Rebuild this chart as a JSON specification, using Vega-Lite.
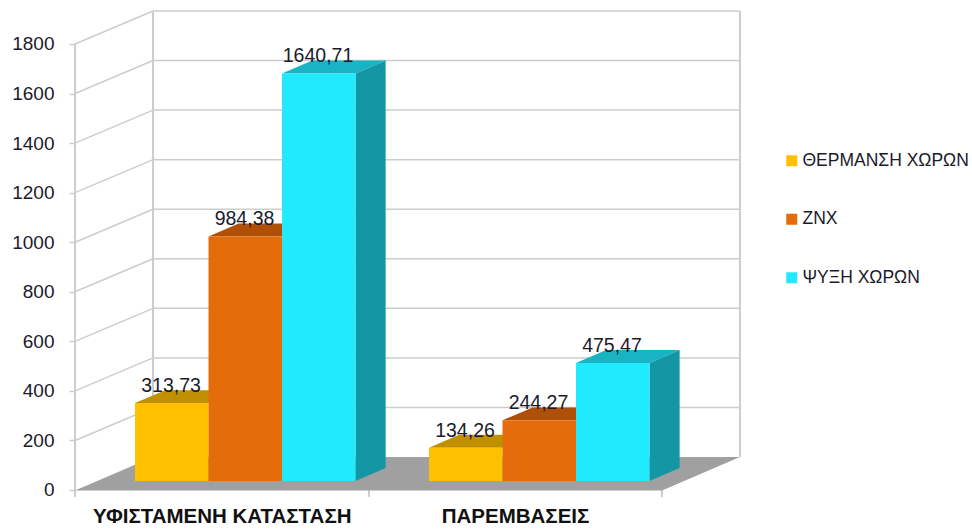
{"$schema":"https://vega.github.io/schema/vega-lite/v6.json","width":972,"height":497,"autosize":{"type":"none"},"padding":{"left":0,"top":0,"right":0,"bottom":32},"background":"white","config":{"view":{"stroke":null},"font":"Liberation Sans"},
"datasets":{
"bars":[
{"group":"ΥΦΙΣΤΑΜΕΝΗ ΚΑΤΑΣΤΑΣΗ","series":"ΘΕΡΜΑΝΣΗ ΧΩΡΩΝ","value":313.73,"label":"313,73","x0":0,"x1":1},
{"group":"ΥΦΙΣΤΑΜΕΝΗ ΚΑΤΑΣΤΑΣΗ","series":"ΖΝΧ","value":984.38,"label":"984,38","x0":1,"x1":2},
{"group":"ΥΦΙΣΤΑΜΕΝΗ ΚΑΤΑΣΤΑΣΗ","series":"ΨΥΞΗ ΧΩΡΩΝ","value":1640.71,"label":"1640,71","x0":2,"x1":3},
{"group":"ΠΑΡΕΜΒΑΣΕΙΣ","series":"ΘΕΡΜΑΝΣΗ ΧΩΡΩΝ","value":134.26,"label":"134,26","x0":4,"x1":5},
{"group":"ΠΑΡΕΜΒΑΣΕΙΣ","series":"ΖΝΧ","value":244.27,"label":"244,27","x0":5,"x1":6},
{"group":"ΠΑΡΕΜΒΑΣΕΙΣ","series":"ΨΥΞΗ ΧΩΡΩΝ","value":475.47,"label":"475,47","x0":6,"x1":7}],
"ticks":[{"v":200,"back":333},{"v":400,"back":533},{"v":600,"back":733},{"v":800,"back":933},{"v":1000,"back":1133},{"v":1200,"back":1333},{"v":1400,"back":1533},{"v":1600,"back":1733},{"v":1800,"back":1933}],
"floor":[{"x":-0.816,"y":-2,"y2":-2},{"x":0.245,"y":-2,"y2":133},{"x":7.17,"y":-2,"y2":133},{"x":8.231,"y":133,"y2":133}],
"tops":[
{"bar":"a1","series":"ΘΕΡΜΑΝΣΗ ΧΩΡΩΝ","x":0,"y":313.73,"y2":313.73},{"bar":"a1","series":"ΘΕΡΜΑΝΣΗ ΧΩΡΩΝ","x":0.41,"y":313.73,"y2":365.73},{"bar":"a1","series":"ΘΕΡΜΑΝΣΗ ΧΩΡΩΝ","x":1,"y":313.73,"y2":365.73},{"bar":"a1","series":"ΘΕΡΜΑΝΣΗ ΧΩΡΩΝ","x":1.41,"y":365.73,"y2":365.73},
{"bar":"a2","series":"ΖΝΧ","x":1,"y":984.38,"y2":984.38},{"bar":"a2","series":"ΖΝΧ","x":1.41,"y":984.38,"y2":1036.38},{"bar":"a2","series":"ΖΝΧ","x":2,"y":984.38,"y2":1036.38},{"bar":"a2","series":"ΖΝΧ","x":2.41,"y":1036.38,"y2":1036.38},
{"bar":"a3","series":"ΨΥΞΗ ΧΩΡΩΝ","x":2,"y":1640.71,"y2":1640.71},{"bar":"a3","series":"ΨΥΞΗ ΧΩΡΩΝ","x":2.41,"y":1640.71,"y2":1692.71},{"bar":"a3","series":"ΨΥΞΗ ΧΩΡΩΝ","x":3,"y":1640.71,"y2":1692.71},{"bar":"a3","series":"ΨΥΞΗ ΧΩΡΩΝ","x":3.41,"y":1692.71,"y2":1692.71},
{"bar":"b1","series":"ΘΕΡΜΑΝΣΗ ΧΩΡΩΝ","x":4,"y":134.26,"y2":134.26},{"bar":"b1","series":"ΘΕΡΜΑΝΣΗ ΧΩΡΩΝ","x":4.41,"y":134.26,"y2":186.26},{"bar":"b1","series":"ΘΕΡΜΑΝΣΗ ΧΩΡΩΝ","x":5,"y":134.26,"y2":186.26},{"bar":"b1","series":"ΘΕΡΜΑΝΣΗ ΧΩΡΩΝ","x":5.41,"y":186.26,"y2":186.26},
{"bar":"b2","series":"ΖΝΧ","x":5,"y":244.27,"y2":244.27},{"bar":"b2","series":"ΖΝΧ","x":5.41,"y":244.27,"y2":296.27},{"bar":"b2","series":"ΖΝΧ","x":6,"y":244.27,"y2":296.27},{"bar":"b2","series":"ΖΝΧ","x":6.41,"y":296.27,"y2":296.27},
{"bar":"b3","series":"ΨΥΞΗ ΧΩΡΩΝ","x":6,"y":475.47,"y2":475.47},{"bar":"b3","series":"ΨΥΞΗ ΧΩΡΩΝ","x":6.41,"y":475.47,"y2":527.47},{"bar":"b3","series":"ΨΥΞΗ ΧΩΡΩΝ","x":7,"y":475.47,"y2":527.47},{"bar":"b3","series":"ΨΥΞΗ ΧΩΡΩΝ","x":7.41,"y":527.47,"y2":527.47}],
"sides":[
{"bar":"a3","x":3,"y":0,"y2":1640.71},{"bar":"a3","x":3.41,"y":52,"y2":1692.71},
{"bar":"b3","x":7,"y":0,"y2":475.47},{"bar":"b3","x":7.41,"y":52,"y2":527.47}]
},
"layer":[
{"data":{"name":"ticks"},"mark":{"type":"rule","color":"#CDCDCD","strokeWidth":1.5},
"encoding":{"x":{"datum":-0.816,"type":"quantitative","scale":{"domain":[-1.837,11.388],"nice":false,"zero":false},"axis":{"title":null,"values":[1.18,5.17],"labelExpr":"datum.value<3?'ΥΦΙΣΤΑΜΕΝΗ ΚΑΤΑΣΤΑΣΗ':'ΠΑΡΕΜΒΑΣΕΙΣ'","ticks":false,"domain":false,"grid":false,"labelFontSize":20.5,"labelFontWeight":"bold","labelColor":"#111111","labelPadding":9,"labelFont":"Liberation Sans","labelLimit":400,"labelOverlap":false}},
"x2":{"datum":0.245},
"y":{"field":"v","type":"quantitative","scale":{"domain":[-28.25,1977.4],"nice":false,"zero":false},"axis":{"title":null,"values":[0,200,400,600,800,1000,1200,1400,1600,1800],"format":"d","offset":-75,"domain":false,"grid":false,"tickColor":"#CDCDCD","tickSize":6,"tickWidth":1.5,"labelFontSize":19,"labelColor":"#1a1a2a","labelPadding":15,"labelFont":"Liberation Sans"}},
"y2":{"field":"back"}}},
{"data":{"name":"ticks"},"mark":{"type":"rule","color":"#CDCDCD","strokeWidth":1.5},
"encoding":{"x":{"datum":0.245,"type":"quantitative"},"x2":{"datum":8.231},
"y":{"field":"back","type":"quantitative","scale":{"domain":[-28.25,1977.4],"nice":false,"zero":false},"axis":null}}},
{"data":{"values":[{"at":-0.816,"lo":-28,"hi":1800},{"at":0.245,"lo":133,"hi":1933},{"at":8.231,"lo":133,"hi":1933},{"at":3.184,"lo":-28,"hi":0},{"at":7.17,"lo":-28,"hi":0}]},"mark":{"type":"rule","color":"#CDCDCD","strokeWidth":2},
"encoding":{"x":{"field":"at","type":"quantitative"},
"y":{"field":"lo","type":"quantitative","scale":{"domain":[-28.25,1977.4],"nice":false,"zero":false},"axis":null},"y2":{"field":"hi"}}},
{"data":{"name":"floor"},"mark":{"type":"area","color":"#A0A0A0"},
"encoding":{"x":{"field":"x","type":"quantitative"},
"y":{"field":"y","type":"quantitative","stack":null,"scale":{"domain":[-28.25,1977.4],"nice":false,"zero":false},"axis":null},"y2":{"field":"y2"}}},
{"data":{"name":"tops"},"mark":{"type":"area"},
"encoding":{"x":{"field":"x","type":"quantitative"},
"y":{"field":"y","type":"quantitative","stack":null,"scale":{"domain":[-64.4,1936.4],"nice":false,"zero":false},"axis":null},"y2":{"field":"y2"},
"detail":{"field":"bar"},
"color":{"field":"series","type":"nominal","legend":null,"scale":{"domain":["ΘΕΡΜΑΝΣΗ ΧΩΡΩΝ","ΖΝΧ","ΨΥΞΗ ΧΩΡΩΝ"],"range":["#C09000","#B05008","#18B4C4"]}}}},
{"data":{"name":"sides"},"mark":{"type":"area","color":"#1496A4"},
"encoding":{"x":{"field":"x","type":"quantitative"},
"y":{"field":"y","type":"quantitative","stack":null,"scale":{"domain":[-64.4,1936.4],"nice":false,"zero":false},"axis":null},"y2":{"field":"y2"},
"detail":{"field":"bar"}}},
{"data":{"name":"bars"},"mark":{"type":"bar"},
"encoding":{"x":{"field":"x0","type":"quantitative"},"x2":{"field":"x1"},
"y":{"field":"value","type":"quantitative","stack":null,"scale":{"domain":[-64.4,1936.4],"nice":false,"zero":false},"axis":null},"y2":{"datum":0},
"color":{"field":"series","type":"nominal","scale":{"domain":["ΘΕΡΜΑΝΣΗ ΧΩΡΩΝ","ΖΝΧ","ΨΥΞΗ ΧΩΡΩΝ"],"range":["#FFC000","#E46C0A","#21EAFF"]},
"legend":{"title":null,"orient":"none","legendX":783,"legendY":152,"padding":0,"symbolType":"square","symbolSize":121,"symbolStrokeWidth":0,"symbolOpacity":1,"labelFontSize":17.5,"labelFont":"Liberation Sans","labelColor":"#1a1a2a","labelOffset":2,"rowPadding":39.5,"labelLimit":300}}}},
{"data":{"name":"bars"},"mark":{"type":"text","fontSize":19.5,"align":"center","baseline":"alphabetic","dx":36,"dy":-11,"color":"#1a1a2a","font":"Liberation Sans"},
"encoding":{"x":{"field":"x0","type":"quantitative"},
"y":{"field":"value","type":"quantitative","scale":{"domain":[-64.4,1936.4],"nice":false,"zero":false},"axis":null},
"text":{"field":"label"}}}
],
"resolve":{"scale":{"y":"independent","color":"independent"}}}
